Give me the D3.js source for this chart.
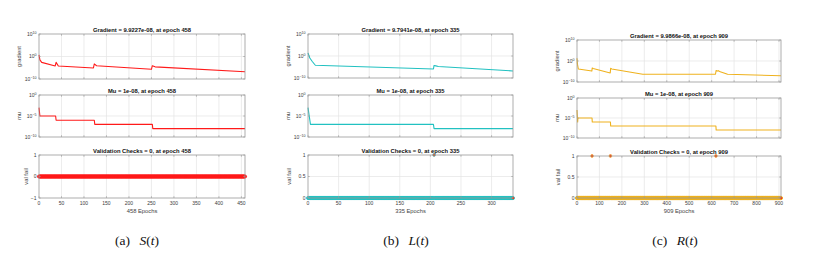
<!DOCTYPE html>
<html><head><meta charset="utf-8">
<script src="https://cdn.jsdelivr.net/npm/d3@7/dist/d3.min.js"></script>
<style>
body{margin:0;background:#fff;}
svg{display:block;font-family:"Liberation Sans",Arial,Helvetica,sans-serif;}
</style></head><body>
<svg id="chart" width="813" height="259"></svg>
<script>
// ---------------- data ----------------
const panelIds = ["S", "L", "R"];
const totalEpochs = [458, 335, 909];
const seriesColors = ["#ff1a1a", "#22c1c1", "#efb21e"];
const failColor = "#ff2a00";

// gradient (epoch, log10 gradient) key points
const gradEpochS = [0, 2, 6, 36, 38, 43, 121, 123, 128, 250, 252, 258, 458];
const gradLogS   = [0.7, -1.5, -2.6, -4.2, -2.6, -4.2, -5.1, -3.3, -4.1, -5.7, -4.1, -4.6, -6.8];
const gradEpochL = [0, 3, 7, 12, 205, 206, 209, 213, 335];
const gradLogL   = [1.4, -0.9, -2.5, -4.2, -5.9, -4.3, -4.5, -4.8, -6.8];
const gradEpochR = [0, 2, 6, 66, 68, 72, 148, 150, 155, 293, 617, 620, 625, 630, 635, 671, 909];
const gradLogR   = [1.3, -1.5, -3.8, -4.8, -3.3, -3.6, -5.7, -3.5, -3.8, -6.3, -6.3, -4.5, -4.8, -4.6, -5.0, -6.3, -7.0];

// mu (epoch, log10 mu) step points
const muEpochS = [0, 1, 2, 37, 38, 123, 124, 252, 253, 458];
const muLogS   = [-3, -4, -5, -5, -6, -6, -7, -7, -8, -8];
const muEpochL = [0, 1, 2, 3, 4, 205, 206, 335];
const muLogL   = [-3, -4, -5, -6, -7, -7, -8, -8];
const muEpochR = [0, 1, 2, 3, 4, 67, 68, 149, 150, 619, 620, 909];
const muLogR   = [-3, -4, -5, -6, -5, -5, -6, -6, -7, -7, -8, -8];

// validation failures (epochs where val fail = 1; all other epochs are 0)
const failEpochS = [];
const failEpochL = [206];
const failEpochR = [67, 149, 619];

const gradTitles = ["Gradient = 9.9227e-08, at epoch 458", "Gradient = 9.7941e-08, at epoch 335", "Gradient = 9.9866e-08, at epoch 909"];
const muTitles = ["Mu = 1e-08, at epoch 458", "Mu = 1e-08, at epoch 335", "Mu = 1e-08, at epoch 909"];
const valTitles = ["Validation Checks = 0, at epoch 458", "Validation Checks = 0, at epoch 335", "Validation Checks = 0, at epoch 909"];
const xTickStep = [50, 50, 100];
const gradTickExps = [-10, 0, 10];
const muTickExps = [-10, -5, 0];
const valTicksS = [-1, 0, 1];
const valTicksLR = [0, 0.5, 1];
const captionLabels = ["(a)", "(b)", "(c)"];
const captionFuncs = ["S", "L", "R"];

const gradData = [[gradEpochS, gradLogS], [gradEpochL, gradLogL], [gradEpochR, gradLogR]];
const muData = [[muEpochS, muLogS], [muEpochL, muLogL], [muEpochR, muLogR]];
const failData = [failEpochS, failEpochL, failEpochR];

// ---------------- layout ----------------
const layout = [
  {x0: 39, x1: 245, grad: [34, 79], mu: [95, 137], val: [155, 198], cap: 137},
  {x0: 308, x1: 513, grad: [34, 78], mu: [95, 137], val: [155, 198], cap: 406},
  {x0: 577, x1: 781, grad: [40, 82], mu: [98, 138], val: [156, 198], cap: 675}
];

const svg = d3.select("#chart");
const TITLE_FS = 5.8, TICK_FS = 5, LABEL_FS = 5.8;
const boxColor = "#9a9a9a", gridColor = "#e4e4e4", tickTextColor = "#3a3a3a";

function frame(g, x, yTop, yBot, xTicks, yTicksPx, title, ylabel, labelOffset) {
  const x0 = x.range()[0], x1 = x.range()[1];
  g.selectAll(null).data(xTicks.filter(t => x(t) > x0 + 0.5 && x(t) < x1 - 0.5)).join("line")
    .attr("x1", d => x(d)).attr("x2", d => x(d)).attr("y1", yTop).attr("y2", yBot)
    .attr("stroke", gridColor).attr("stroke-width", 0.7);
  g.selectAll(null).data(yTicksPx.filter(p => p > yTop + 0.5 && p < yBot - 0.5)).join("line")
    .attr("x1", x0).attr("x2", x1).attr("y1", d => d).attr("y2", d => d)
    .attr("stroke", gridColor).attr("stroke-width", 0.7);
  g.append("text").attr("x", (x0 + x1) / 2).attr("y", yTop - 2.3)
    .attr("text-anchor", "middle").attr("font-size", TITLE_FS).attr("font-weight", "bold")
    .attr("fill", "#111").text(title);
  g.append("text").attr("transform", `translate(${x0 - labelOffset},${(yTop + yBot) / 2}) rotate(-90)`)
    .attr("text-anchor", "middle").attr("font-size", LABEL_FS).attr("fill", "#444").text(ylabel);
}

function boxAndTicks(g, x, yTop, yBot, xTicks, yTicksPx) {
  const x0 = x.range()[0], x1 = x.range()[1];
  const tl = 1.8;
  xTicks.forEach(t => {
    const px = x(t);
    g.append("line").attr("x1", px).attr("x2", px).attr("y1", yBot).attr("y2", yBot - tl).attr("stroke", boxColor).attr("stroke-width", 0.6);
    g.append("line").attr("x1", px).attr("x2", px).attr("y1", yTop).attr("y2", yTop + tl).attr("stroke", boxColor).attr("stroke-width", 0.6);
  });
  yTicksPx.forEach(p => {
    g.append("line").attr("x1", x0).attr("x2", x0 + tl).attr("y1", p).attr("y2", p).attr("stroke", boxColor).attr("stroke-width", 0.6);
    g.append("line").attr("x1", x1).attr("x2", x1 - tl).attr("y1", p).attr("y2", p).attr("stroke", boxColor).attr("stroke-width", 0.6);
  });
  g.append("rect").attr("x", x0).attr("y", yTop).attr("width", x1 - x0).attr("height", yBot - yTop)
    .attr("fill", "none").attr("stroke", boxColor).attr("stroke-width", 0.8);
}

function logTickLabels(g, x0, y, exps) {
  exps.forEach(e => {
    const t = g.append("text").attr("x", x0 - 2.5).attr("y", y(Math.pow(10, e)) + 1.8)
      .attr("text-anchor", "end").attr("font-size", TICK_FS).attr("fill", tickTextColor);
    t.append("tspan").text("10");
    t.append("tspan").attr("font-size", TICK_FS * 0.72).attr("dy", -2).text(String(e).replace("-", "\u2212"));
  });
}

layout.forEach((L, i) => {
  const g = svg.append("g");
  const N = totalEpochs[i];
  const x = d3.scaleLinear().domain([0, N]).range([L.x0, L.x1]);
  const xTicks = d3.range(0, N + 1, xTickStep[i]);
  const color = seriesColors[i];

  // ---- gradient ----
  const yG = d3.scaleLog().domain([1e-10, 1e10]).range([L.grad[1], L.grad[0]]);
  frame(g, x, L.grad[0], L.grad[1], xTicks, gradTickExps.map(e => yG(Math.pow(10, e))), gradTitles[i], "gradient", 18);
  const gpts = gradData[i][0].map((ep, k) => [ep, Math.pow(10, gradData[i][1][k])]);
  g.append("path").datum(gpts)
    .attr("d", d3.line().x(d => x(d[0])).y(d => yG(d[1])))
    .attr("fill", "none").attr("stroke", color).attr("stroke-width", 1.1).attr("stroke-linejoin", "round");
  boxAndTicks(g, x, L.grad[0], L.grad[1], xTicks, gradTickExps.map(e => yG(Math.pow(10, e))));
  logTickLabels(g, L.x0, yG, gradTickExps);

  // ---- mu ----
  const yM = d3.scaleLog().domain([1e-10, 1]).range([L.mu[1], L.mu[0]]);
  frame(g, x, L.mu[0], L.mu[1], xTicks, muTickExps.map(e => yM(Math.pow(10, e))), muTitles[i], "mu", 18);
  const mpts = muData[i][0].map((ep, k) => [ep, Math.pow(10, muData[i][1][k])]);
  g.append("path").datum(mpts)
    .attr("d", d3.line().x(d => x(d[0])).y(d => yM(d[1])))
    .attr("fill", "none").attr("stroke", color).attr("stroke-width", 1.1).attr("stroke-linejoin", "round");
  boxAndTicks(g, x, L.mu[0], L.mu[1], xTicks, muTickExps.map(e => yM(Math.pow(10, e))));
  logTickLabels(g, L.x0, yM, muTickExps);

  // ---- validation checks ----
  const vt = i === 0 ? valTicksS : valTicksLR;
  const yV = d3.scaleLinear().domain([vt[0], vt[2]]).range([L.val[1], L.val[0]]);
  frame(g, x, L.val[0], L.val[1], xTicks, vt.map(v => yV(v)), valTitles[i], "val fail", i === 0 ? 11 : 17.5);
  const fails = new Set(failData[i]);
  const vpts = d3.range(0, N + 1).map(ep => [ep, fails.has(ep) ? 1 : 0]);
  g.append("g").selectAll("circle").data(vpts.filter(d => d[1] === 0)).join("circle")
    .attr("cx", d => x(d[0])).attr("cy", d => yV(d[1])).attr("r", 1.6)
    .attr("fill", color).attr("stroke", color).attr("stroke-width", 0.6);
  g.append("g").selectAll("circle").data(vpts.filter(d => d[1] === 1)).join("circle")
    .attr("cx", d => x(d[0])).attr("cy", d => yV(d[1])).attr("r", 1.4)
    .attr("fill", failColor).attr("stroke", color).attr("stroke-width", 0.6);
  if (i > 0) {
    g.append("circle").attr("cx", x(N)).attr("cy", yV(0)).attr("r", 1.3).attr("fill", failColor);
  }
  boxAndTicks(g, x, L.val[0], L.val[1], xTicks, vt.map(v => yV(v)));
  vt.forEach(v => {
    g.append("text").attr("x", L.x0 - 2.5).attr("y", yV(v) + 1.7).attr("text-anchor", "end")
      .attr("font-size", TICK_FS).attr("fill", tickTextColor).text(String(v).replace("-", "\u2212"));
  });
  xTicks.forEach(t => {
    g.append("text").attr("x", x(t)).attr("y", L.val[1] + 6.5).attr("text-anchor", "middle")
      .attr("font-size", TICK_FS).attr("fill", tickTextColor).text(t);
  });
  g.append("text").attr("x", (L.x0 + L.x1) / 2).attr("y", L.val[1] + 15).attr("text-anchor", "middle")
    .attr("font-size", LABEL_FS).attr("fill", "#444").text(N + " Epochs");

  // ---- caption ----
  const cap = svg.append("text").attr("x", L.cap).attr("y", 244.5).attr("text-anchor", "middle")
    .attr("font-family", "'Liberation Serif','Times New Roman',serif").attr("font-size", 13.5).attr("fill", "#111");
  cap.append("tspan").text(captionLabels[i] + "\u2002\u2009");
  cap.append("tspan").attr("font-style", "italic").text(captionFuncs[i]);
  cap.append("tspan").text("(");
  cap.append("tspan").attr("font-style", "italic").text("t");
  cap.append("tspan").text(")");
});
</script>
</body></html>
